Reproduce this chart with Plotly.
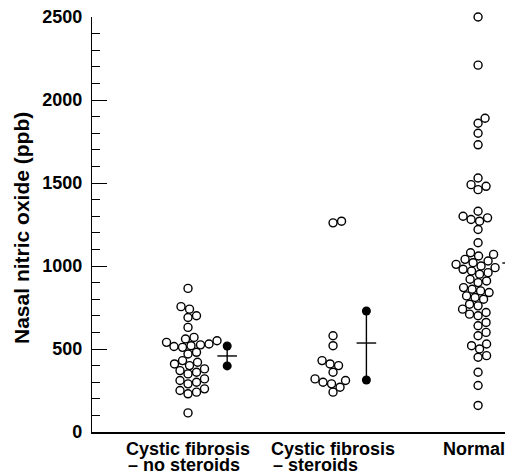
import plotly.graph_objects as go
import numpy as np

# ---- data (ppb) ----
group_line1 = ["Cystic fibrosis", "Cystic fibrosis", "Normal"]
group_line2 = ["– no steroids", "– steroids", ""]
group_pos = [1, 2, 3]

cf_no_steroids = [115, 230, 240, 250, 260, 290, 300, 310, 320, 350, 360, 370, 380,
                  400, 410, 420, 430, 470, 480, 510, 515, 520, 525, 530, 540, 550,
                  560, 570, 630, 690, 700, 740, 755, 865]
cf_steroids = [240, 270, 290, 300, 310, 320, 360, 400, 410, 430, 520, 580, 1260, 1270]
normal = [160, 280, 360, 450, 460, 500, 520, 530, 580, 600, 640, 660, 700, 710, 720,
          740, 760, 770, 800, 810, 820, 840, 850, 860, 870, 900, 910, 920, 950, 960,
          970, 980, 990, 1000, 1010, 1020, 1030, 1040, 1060, 1070, 1080, 1140, 1220,
          1270, 1280, 1290, 1300, 1330, 1460, 1480, 1490, 1530, 1730, 1800, 1860,
          1890, 2210, 2500]

# summary markers: lower, mean, upper
summ_low = [398, 313, 904]
summ_mean = [458, 536, 1018]
summ_high = [518, 729, 1150]
summ_offset = [0.27, 0.23, 0.235]

groups = [cf_no_steroids, cf_steroids, normal]

# ---- layout geometry (page has an 8px body margin) ----
W, H = 513, 474
ml, mr, mt, mb = 84, 0, 9, 50
xr = [0.338, 3.296]
yr = [0, 2500]
px_per_x = (W - ml - mr) / (xr[1] - xr[0])
px_per_y = (H - mt - mb) / (yr[1] - yr[0])


def swarm(values, diam=8.4):
    """simple beeswarm: returns x offsets in data units"""
    order = np.argsort(values)
    placed = []
    offs = np.zeros(len(values))
    for i in order:
        yp = values[i] * px_per_y
        best = None
        for k in range(0, 200):
            for cand in ([0] if k == 0 else [k * 0.5, -k * 0.5]):
                ok = all((cand - px) ** 2 + (yp - py) ** 2 >= diam ** 2 for px, py in placed)
                if ok:
                    best = cand
                    break
            if best is not None:
                break
        placed.append((best, yp))
        offs[i] = best / px_per_x
    return offs


fig = go.Figure()
for pos, vals in zip(group_pos, groups):
    offs = swarm(vals)
    fig.add_trace(go.Scatter(
        x=[pos + o for o in offs], y=vals, mode="markers",
        marker=dict(size=8, color="white", line=dict(color="black", width=1.4)),
        cliponaxis=False, showlegend=False, hoverinfo="y"))

for pos, lo, mn, hi, off in zip(group_pos, summ_low, summ_mean, summ_high, summ_offset):
    xc = pos + off
    fig.add_trace(go.Scatter(x=[xc, xc], y=[lo, hi], mode="lines+markers",
                             line=dict(color="black", width=1.4),
                             marker=dict(size=9, color="black"),
                             cliponaxis=False, showlegend=False))
    fig.add_trace(go.Scatter(x=[xc], y=[mn], mode="markers",
                             marker=dict(symbol="line-ew", size=14,
                                         line=dict(color="black", width=1.4)),
                             cliponaxis=False, showlegend=False))

font_fam = "Liberation Sans, Arial, Helvetica, sans-serif"
lab_font = dict(family=font_fam, size=18, color="black", weight="bold")
half_w = 62 / px_per_x  # half width of "Cystic fibrosis" in data units
for pos, l1, l2 in zip(group_pos, group_line1, group_line2):
    fig.add_annotation(x=pos, y=0, xref="x", yref="paper", yanchor="top",
                       xanchor="center", yshift=-5, xshift=(0 if l2 else -4),
                       text=l1, showarrow=False, font=lab_font)
    if l2:
        fig.add_annotation(x=pos - half_w, y=0, xref="x", yref="paper", yanchor="top",
                           xanchor="left", yshift=-21, text=l2, showarrow=False,
                           font=lab_font)

fig.add_annotation(x=-(ml - 14) / (W - ml - mr), y=0.4916, xref="paper", yref="paper",
                   text="Nasal nitric oxide (ppb)", textangle=-90, showarrow=False,
                   xanchor="center", yanchor="middle",
                   font=dict(family=font_fam, size=21, color="black", weight="bold"))

fig.update_layout(
    width=W, height=H, margin=dict(l=ml, r=mr, t=mt, b=mb, autoexpand=False),
    paper_bgcolor="white", plot_bgcolor="white",
    xaxis=dict(range=xr, showgrid=False, zeroline=False, showline=True,
               linecolor="black", linewidth=1.6, showticklabels=False, ticks="",
               automargin=False),
    yaxis=dict(range=yr, showgrid=False, zeroline=False, showline=True,
               linecolor="black", linewidth=1.3, dtick=500, tick0=0,
               ticks="inside", ticklen=15, tickwidth=1.2, tickcolor="black",
               ticklabelstandoff=5, ticklabeloverflow="allow", automargin=False,
               minor=dict(dtick=100, ticks="inside", ticklen=8, tickwidth=1.2,
                          tickcolor="black"),
               tickfont=dict(family=font_fam, size=18, color="black", weight="bold")),
)

fig.write_html("out.html")
